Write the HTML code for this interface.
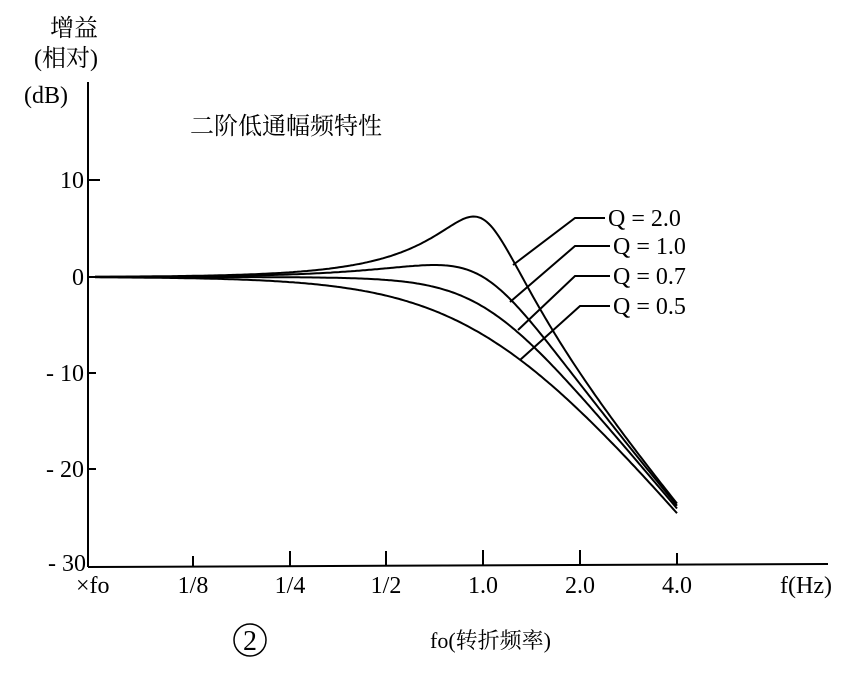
<!DOCTYPE html>
<html><head><meta charset="utf-8"><style>
body{margin:0;background:#fff;}
svg text{font-family:"Liberation Serif","Noto Serif CJK SC",serif;fill:#000;}
</style></head><body>
<svg id="s" width="861" height="674" viewBox="0 0 861 674" xmlns="http://www.w3.org/2000/svg">
<g stroke="#000" stroke-width="2" fill="none">
<line x1="88" y1="82" x2="88" y2="567"/>
<line x1="88" y1="567" x2="828" y2="564"/>
<line x1="88" y1="180" x2="100" y2="180"/>
<line x1="88" y1="277" x2="96" y2="277"/>
<line x1="88" y1="373" x2="96" y2="373"/>
<line x1="88" y1="469" x2="96" y2="469"/>
<line x1="193" y1="556" x2="193" y2="566"/>
<line x1="290" y1="551" x2="290" y2="566"/>
<line x1="386" y1="551" x2="386" y2="566"/>
<line x1="483" y1="550" x2="483" y2="565"/>
<line x1="580" y1="550" x2="580" y2="565"/>
<line x1="677" y1="553" x2="677" y2="565"/>
<g id="curves"></g>
<polyline points="605,218 575,218 513,265"/>
<polyline points="610,246 575,246 510,302"/>
<polyline points="610,276 575,276 518,330"/>
<polyline points="610,306 580,306 520,360"/>
</g>
<text x="50" y="36" font-size="24">增益</text>
<text x="34" y="66" font-size="24">(相对)</text>
<text x="24" y="103" font-size="24">(dB)</text>
<text x="190" y="134" font-size="24">二阶低通幅频特性</text>
<text x="84" y="188" font-size="24" text-anchor="end">10</text>
<text x="84" y="285" font-size="24" text-anchor="end">0</text>
<text x="84" y="381" font-size="24" text-anchor="end">- 10</text>
<text x="84" y="477" font-size="24" text-anchor="end">- 20</text>
<text x="86" y="571" font-size="24" text-anchor="end">- 30</text>
<g font-size="24" text-anchor="middle">
<text x="76" y="593" text-anchor="start">×fo</text>
<text x="193" y="593">1/8</text>
<text x="290" y="593">1/4</text>
<text x="386" y="593">1/2</text>
<text x="483" y="593">1.0</text>
<text x="580" y="593">2.0</text>
<text x="677" y="593">4.0</text>
<text x="806" y="593">f(Hz)</text>
</g>
<text x="608" y="226" font-size="24">Q = 2.0</text>
<text x="613" y="254" font-size="24">Q = 1.0</text>
<text x="613" y="284" font-size="24">Q = 0.7</text>
<text x="613" y="314" font-size="24">Q = 0.5</text>
<circle cx="250" cy="640" r="16" fill="none" stroke="#000" stroke-width="1.5"/>
<text x="250" y="650" font-size="28" text-anchor="middle">2</text>
<text x="430" y="648" font-size="22">fo(转折频率)</text>
</svg>
<script>
var g=document.getElementById('curves');
[2,1,0.7,0.5].forEach(function(Q){
 var d='';
 for(var x=95;x<=677;x+=2){
  var r=Math.pow(2,(x-483)/97);
  var db=-10*Math.log10(Math.pow(1-r*r,2)+Math.pow(r/Q,2));
  var y=277-9.6*db;
  d+=(d?'L':'M')+x+','+y.toFixed(1);
 }
 var p=document.createElementNS('http://www.w3.org/2000/svg','path');
 p.setAttribute('d',d);g.appendChild(p);
});
</script>
</body></html>
